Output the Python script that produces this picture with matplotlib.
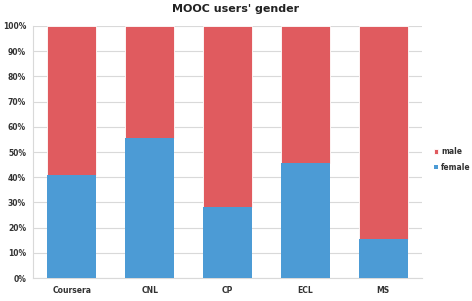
import matplotlib.pyplot as plt
from matplotlib.ticker import PercentFormatter

platforms = ["Coursera", "CNL", "CP", "ECL", "MS"]
female = [41.0, 55.4, 28.0, 45.5, 15.6]
male = [100 - f for f in female]

red = "#E05B5F"
blue = "#4C9BD5"

fig = plt.figure(figsize=(4.72, 3.01), dpi=100)
ax = fig.add_axes([33 / 472, 1 - 278 / 301, 389 / 472, 252 / 301])

x = range(len(platforms))
ax.bar(x, male, width=0.63, bottom=female, color=red, label="male", zorder=3,
       edgecolor="white", linewidth=0.6)
# female drawn on top so the thin white seam shows only at the join
ax.bar(x, female, width=0.63, color=blue, label="female", zorder=4)

ax.set_xlim(-0.5, len(platforms) - 0.5)
ax.set_ylim(0, 100)
ax.set_yticks(range(0, 101, 10))
ax.yaxis.set_major_formatter(PercentFormatter(decimals=0))
ax.set_xticks(list(x))
ax.set_xticklabels(platforms)
ax.tick_params(axis="both", length=0, labelsize=5.5)
ax.tick_params(axis="x", pad=6)
ax.tick_params(axis="y", pad=5)
for lbl in ax.get_xticklabels() + ax.get_yticklabels():
    lbl.set_fontweight("bold")
    lbl.set_color("#333333")

ax.grid(axis="y", color="#D9D9D9", linewidth=0.8, zorder=0)
for side in ["top", "right"]:
    ax.spines[side].set_visible(False)
ax.spines["left"].set_color("#D9D9D9")
ax.spines["bottom"].set_color("#D9D9D9")

fig.text(0.5, 1 - 9 / 301, "MOOC users' gender", ha="center", va="center",
         fontsize=8, fontweight="bold", color="#222222")

leg = fig.legend(loc="center left", bbox_to_anchor=(429 / 472, 1 - 159.5 / 301),
                 frameon=False, fontsize=5.5, handlelength=0.5, handleheight=0.5,
                 handletextpad=0.4, labelspacing=0.9, borderpad=0.2)
for t in leg.get_texts():
    t.set_fontweight("bold")
    t.set_color("#333333")

fig.savefig("out.png", dpi=100)
